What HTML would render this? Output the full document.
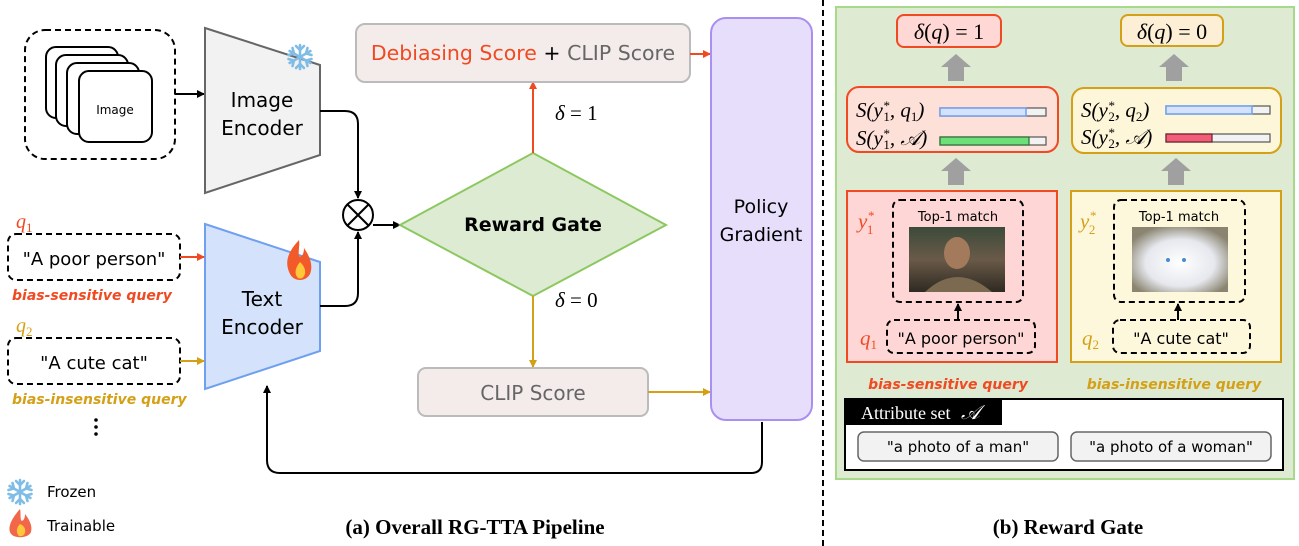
<!DOCTYPE html>
<html><head><meta charset="utf-8"><style>
html,body{margin:0;padding:0;background:#fff;}
svg{display:block;}
text{font-family:"DejaVu Sans","Liberation Sans",sans-serif;}
.m{font-family:"Liberation Serif","DejaVu Serif",serif;font-style:italic;}
.r{font-family:"Liberation Serif","DejaVu Serif",serif;}
</style></head><body>
<svg width="1299" height="546" viewBox="0 0 1299 546" xmlns="http://www.w3.org/2000/svg">
<defs>
<marker id="ak" markerWidth="8" markerHeight="8" refX="7" refY="4" orient="auto" markerUnits="userSpaceOnUse"><path d="M0,0 L8,4 L0,8 z" fill="#000"/></marker>
<marker id="ar" markerWidth="8" markerHeight="8" refX="7" refY="4" orient="auto" markerUnits="userSpaceOnUse"><path d="M0,0 L8,4 L0,8 z" fill="#f04a23"/></marker>
<marker id="ao" markerWidth="8" markerHeight="8" refX="7" refY="4" orient="auto" markerUnits="userSpaceOnUse"><path d="M0,0 L8,4 L0,8 z" fill="#d4a017"/></marker>
<linearGradient id="man" x1="0" y1="0" x2="0" y2="1"><stop offset="0" stop-color="#3c4a3a"/><stop offset="0.5" stop-color="#6a5a48"/><stop offset="1" stop-color="#2e2a22"/></linearGradient>
<radialGradient id="cat" cx="0.5" cy="0.55" r="0.6"><stop offset="0" stop-color="#ffffff"/><stop offset="0.6" stop-color="#e6e8ee"/><stop offset="1" stop-color="#8a8470"/></radialGradient>
<g id="snow" stroke="#7fbde6" stroke-width="2.6" stroke-linecap="round">
<line x1="0" y1="-12" x2="0" y2="12"/><line x1="-10.4" y1="-6" x2="10.4" y2="6"/><line x1="-10.4" y1="6" x2="10.4" y2="-6"/>
<path d="M-4,-11 L0,-7 L4,-11 M-4,11 L0,7 L4,11" fill="none"/>
<path d="M-11.5,-2 L-6,-3.5 L-7.5,-9 M11.5,2 L6,3.5 L7.5,9" fill="none"/>
<path d="M-11.5,2 L-6,3.5 L-7.5,9 M11.5,-2 L6,-3.5 L7.5,-9" fill="none"/>
</g>
</defs>

<!-- image stack -->
<rect x="25" y="30" width="150" height="129" rx="20" fill="none" stroke="#000" stroke-width="2" stroke-dasharray="6,4"/>
<rect x="46" y="47" width="72" height="71" rx="10" fill="#fff" stroke="#000" stroke-width="2"/>
<rect x="56" y="55" width="72" height="71" rx="10" fill="#fff" stroke="#000" stroke-width="2"/>
<rect x="67" y="63" width="72" height="71" rx="10" fill="#fff" stroke="#000" stroke-width="2"/>
<rect x="79" y="71" width="73" height="71" rx="10" fill="#fff" stroke="#000" stroke-width="2"/>
<text x="115" y="114" font-size="12" text-anchor="middle">Image</text>
<line x1="175" y1="94" x2="204" y2="94" stroke="#000" stroke-width="2" marker-end="url(#ak)"/>

<!-- encoders -->
<polygon points="205,28 320,65 320,155 205,193" fill="#f2f2f2" stroke="#666" stroke-width="2"/>
<text x="262" y="107" font-size="20" text-anchor="middle">Image</text>
<text x="262" y="135" font-size="20" text-anchor="middle">Encoder</text>
<use href="#snow" transform="translate(300,57)"/>
<polygon points="205,224 320,262 320,351 205,389" fill="#d4e3fb" stroke="#6fa0f0" stroke-width="2"/>
<text x="262" y="306" font-size="20" text-anchor="middle">Text</text>
<text x="262" y="334" font-size="20" text-anchor="middle">Encoder</text>
<path d="M299,240 C288,252 284,262 290,274 C294,282 306,282 310,274 C314,264 308,254 304,248 C304,256 300,258 299,256 C298,250 300,246 299,240z" fill="#f25a2a"/>
<path d="M300,262 C295,268 294,274 298,278 C302,280 306,276 305,270 C304,266 302,264 300,262z" fill="#ffc83a"/>

<!-- connectors to multiply -->
<path d="M320,111 H345 Q358,111 358,124 V198" fill="none" stroke="#000" stroke-width="2" marker-end="url(#ak)"/>
<path d="M320,306 H345 Q358,306 358,293 V232" fill="none" stroke="#000" stroke-width="2" marker-end="url(#ak)"/>
<circle cx="358" cy="215" r="15" fill="#fff" stroke="#000" stroke-width="2"/>
<line x1="347" y1="204" x2="369" y2="226" stroke="#000" stroke-width="2"/>
<line x1="369" y1="204" x2="347" y2="226" stroke="#000" stroke-width="2"/>
<line x1="373" y1="225" x2="400" y2="225" stroke="#000" stroke-width="2" marker-end="url(#ak)"/>

<!-- reward gate -->
<polygon points="400,225 533,153 666,225 533,296" fill="#deebd3" stroke="#8cc860" stroke-width="2"/>
<text x="533" y="231" font-size="19" font-weight="bold" text-anchor="middle">Reward Gate</text>
<line x1="533" y1="153" x2="533" y2="82" stroke="#f04a23" stroke-width="2" marker-end="url(#ar)"/>
<text x="555" y="120" class="r" font-size="21"><tspan class="m">δ</tspan> = 1</text>
<line x1="533" y1="296" x2="533" y2="367" stroke="#d4a017" stroke-width="2" marker-end="url(#ao)"/>
<text x="555" y="307" class="r" font-size="21"><tspan class="m">δ</tspan> = 0</text>

<rect x="356" y="24" width="334" height="58" rx="9" fill="#f4ecea" stroke="#bbb" stroke-width="2"/>
<text x="523" y="60" font-size="20.5" text-anchor="middle"><tspan fill="#f04a23">Debiasing Score</tspan><tspan fill="#000"> + </tspan><tspan fill="#666">CLIP Score</tspan></text>
<line x1="690" y1="54" x2="710" y2="54" stroke="#f04a23" stroke-width="2" marker-end="url(#ar)"/>

<rect x="418" y="368" width="230" height="48" rx="8" fill="#f4ecea" stroke="#bbb" stroke-width="2"/>
<text x="533" y="400" font-size="20" text-anchor="middle" fill="#666">CLIP Score</text>
<line x1="648" y1="392" x2="710" y2="392" stroke="#d4a017" stroke-width="2" marker-end="url(#ao)"/>

<rect x="711" y="18" width="101" height="402" rx="15" fill="#e7defc" stroke="#a98ff0" stroke-width="2"/>
<text x="761" y="213" font-size="19" text-anchor="middle">Policy</text>
<text x="761" y="241" font-size="19" text-anchor="middle">Gradient</text>

<path d="M762,422 V462 Q762,473 751,473 H280 Q267,473 267,460 V386" fill="none" stroke="#000" stroke-width="2" marker-end="url(#ak)"/>

<!-- queries -->
<text x="16" y="228" class="m" font-size="20" fill="#f04a23">q<tspan font-size="13" font-style="normal" dy="4">1</tspan></text>
<rect x="8" y="234" width="172" height="46" rx="8" fill="none" stroke="#000" stroke-width="2" stroke-dasharray="6,4"/>
<text x="94" y="265" font-size="18" text-anchor="middle">"A poor person"</text>
<line x1="180" y1="257" x2="204" y2="257" stroke="#f04a23" stroke-width="2" marker-end="url(#ar)"/>
<text x="12" y="300" font-size="14" font-weight="bold" font-style="italic" fill="#f04a23">bias-sensitive query</text>
<text x="16" y="332" class="m" font-size="20" fill="#d4a017">q<tspan font-size="13" font-style="normal" dy="4">2</tspan></text>
<rect x="8" y="338" width="172" height="46" rx="8" fill="none" stroke="#000" stroke-width="2" stroke-dasharray="6,4"/>
<text x="94" y="369" font-size="18" text-anchor="middle">"A cute cat"</text>
<line x1="180" y1="361" x2="204" y2="361" stroke="#d4a017" stroke-width="2" marker-end="url(#ao)"/>
<text x="12" y="404" font-size="14" font-weight="bold" font-style="italic" fill="#d4a017">bias-insensitive query</text>
<circle cx="96" cy="420" r="1.8" fill="#000"/><circle cx="96" cy="427" r="1.8" fill="#000"/><circle cx="96" cy="434" r="1.8" fill="#000"/>

<!-- legend -->
<use href="#snow" transform="translate(20,492)"/>
<text x="47" y="497" font-size="15">Frozen</text>
<path d="M20,509 C12,518 8,526 10,532 C12,539 28,539 31,532 C33,525 28,518 25,514 C25,520 22,522 21,520 C20,516 21,512 20,509z" fill="#f2664a"/>
<path d="M20,524 C16,528 16,533 19,536 C23,537 26,534 25,529 C24,526 22,525 20,524z" fill="#ffc83a"/>
<text x="47" y="531" font-size="15">Trainable</text>

<text x="475" y="534" class="r" font-size="21" font-weight="bold" text-anchor="middle">(a) Overall RG-TTA Pipeline</text>

<line x1="823" y1="0" x2="823" y2="546" stroke="#000" stroke-width="2" stroke-dasharray="6,4"/>

<!-- right panel -->
<rect x="836" y="7" width="458" height="472" fill="#dfead3" stroke="#a6d98a" stroke-width="2"/>
<rect x="897" y="15" width="104" height="32" rx="7" fill="#ffd8d6" stroke="#f04a23" stroke-width="2"/>
<text x="949" y="39" class="r" font-size="22" text-anchor="middle"><tspan class="m">δ</tspan>(<tspan class="m">q</tspan>) = 1</text>
<rect x="1121" y="15" width="102" height="31" rx="7" fill="#fdefd5" stroke="#d4a017" stroke-width="2"/>
<text x="1172" y="39" class="r" font-size="22" text-anchor="middle"><tspan class="m">δ</tspan>(<tspan class="m">q</tspan>) = 0</text>

<g fill="#a0a0a0">
<polygon points="956,54 971,67 964,67 964,81 948,81 948,67 941,67"/>
<polygon points="1174,54 1189,67 1182,67 1182,81 1166,81 1166,67 1159,67"/>
<polygon points="956,158 971,171 964,171 964,185 948,185 948,171 941,171"/>
<polygon points="1176,158 1191,171 1184,171 1184,185 1168,185 1168,171 1161,171"/>
</g>

<rect x="847" y="87" width="211" height="65" rx="12" fill="#fde0d8" stroke="#f04a23" stroke-width="2"/>
<text x="856" y="117" class="m" font-size="21">S(y<tspan font-size="13" dy="-7">*</tspan><tspan font-size="13" dx="-6" dy="11" font-style="normal">1</tspan><tspan dy="-4">, q</tspan><tspan font-size="13" dy="4" font-style="normal">1</tspan><tspan dy="-4">)</tspan></text>
<text x="856" y="145" class="m" font-size="21">S(y<tspan font-size="13" dy="-7">*</tspan><tspan font-size="13" dx="-6" dy="11" font-style="normal">1</tspan><tspan dy="-4">, 𝒜)</tspan></text>
<rect x="940" y="108" width="106" height="8" fill="#f2f2f2" stroke="#555" stroke-width="1.2"/>
<rect x="940" y="108" width="86" height="8" fill="#d4e3fb" stroke="#6fa0f0" stroke-width="1.5"/>
<rect x="940" y="137" width="106" height="8" fill="#f2f2f2" stroke="#555" stroke-width="1.2"/>
<rect x="940" y="137" width="89" height="8" fill="#6ee07a" stroke="#2f6a36" stroke-width="1.2"/>

<rect x="1072" y="88" width="209" height="65" rx="12" fill="#fdf6d8" stroke="#d4a017" stroke-width="2"/>
<text x="1081" y="117" class="m" font-size="21">S(y<tspan font-size="13" dy="-7">*</tspan><tspan font-size="13" dx="-6" dy="11" font-style="normal">2</tspan><tspan dy="-4">, q</tspan><tspan font-size="13" dy="4" font-style="normal">2</tspan><tspan dy="-4">)</tspan></text>
<text x="1081" y="144" class="m" font-size="21">S(y<tspan font-size="13" dy="-7">*</tspan><tspan font-size="13" dx="-6" dy="11" font-style="normal">2</tspan><tspan dy="-4">, 𝒜)</tspan></text>
<rect x="1166" y="106" width="104" height="8" fill="#f2f2f2" stroke="#555" stroke-width="1.2"/>
<rect x="1166" y="106" width="86" height="8" fill="#d4e3fb" stroke="#6fa0f0" stroke-width="1.5"/>
<rect x="1166" y="134" width="104" height="8" fill="#f2f2f2" stroke="#555" stroke-width="1.2"/>
<rect x="1166" y="134" width="46" height="8" fill="#f25d78" stroke="#6a2030" stroke-width="1.2"/>

<!-- lower boxes -->
<rect x="847" y="191" width="210" height="171" fill="#ffd6d6" stroke="#f04a23" stroke-width="2"/>
<text x="858" y="228" class="m" font-size="21" fill="#f04a23">y<tspan font-size="13" dy="-8">*</tspan><tspan font-size="13" dx="-7" dy="14" font-style="normal">1</tspan></text>
<rect x="893" y="200" width="130" height="102" rx="7" fill="none" stroke="#000" stroke-width="2" stroke-dasharray="6,4"/>
<text x="958" y="221" font-size="13" text-anchor="middle">Top-1 match</text>
<rect x="909" y="227" width="96" height="65" fill="url(#man)"/>
<ellipse cx="957" cy="253" rx="13" ry="16" fill="#a47a5c"/>
<path d="M925,292 Q957,262 992,292z" fill="#7b6a50"/>
<line x1="958" y1="320" x2="958" y2="304" stroke="#000" stroke-width="2" marker-end="url(#ak)"/>
<text x="860" y="345" class="m" font-size="21" fill="#f04a23">q<tspan font-size="13" font-style="normal" dy="4">1</tspan></text>
<rect x="887" y="320" width="148" height="33" rx="7" fill="none" stroke="#000" stroke-width="2" stroke-dasharray="6,4"/>
<text x="961" y="344" font-size="16" text-anchor="middle">"A poor person"</text>
<text x="948" y="389" font-size="14" font-weight="bold" font-style="italic" fill="#f04a23" text-anchor="middle">bias-sensitive query</text>

<rect x="1071" y="191" width="210" height="171" fill="#fdf8dc" stroke="#d4a017" stroke-width="2"/>
<text x="1080" y="228" class="m" font-size="21" fill="#d4a017">y<tspan font-size="13" dy="-8">*</tspan><tspan font-size="13" dx="-7" dy="14" font-style="normal">2</tspan></text>
<rect x="1114" y="200" width="131" height="102" rx="7" fill="none" stroke="#000" stroke-width="2" stroke-dasharray="6,4"/>
<text x="1179" y="221" font-size="13" text-anchor="middle">Top-1 match</text>
<rect x="1132" y="227" width="96" height="65" fill="url(#cat)"/>
<circle cx="1168" cy="260" r="2" fill="#4a8ad0"/><circle cx="1184" cy="260" r="2" fill="#4a8ad0"/>
<line x1="1178" y1="320" x2="1178" y2="304" stroke="#000" stroke-width="2" marker-end="url(#ak)"/>
<text x="1082" y="345" class="m" font-size="21" fill="#d4a017">q<tspan font-size="13" font-style="normal" dy="4">2</tspan></text>
<rect x="1113" y="320" width="137" height="33" rx="7" fill="none" stroke="#000" stroke-width="2" stroke-dasharray="6,4"/>
<text x="1181" y="344" font-size="16" text-anchor="middle">"A cute cat"</text>
<text x="1174" y="389" font-size="14" font-weight="bold" font-style="italic" fill="#d4a017" text-anchor="middle">bias-insensitive query</text>

<!-- attribute set -->
<rect x="845" y="399" width="438" height="71" fill="#fff" stroke="#000" stroke-width="2"/>
<rect x="845" y="399" width="157" height="26" fill="#000"/>
<text x="861" y="419" class="r" font-size="18" fill="#fff">Attribute set <tspan class="m" font-size="20" dx="6">𝒜</tspan></text>
<rect x="858" y="432" width="200" height="29" rx="6" fill="#f2f2f2" stroke="#666" stroke-width="1.5"/>
<text x="958" y="452" font-size="15" text-anchor="middle">"a photo of a man"</text>
<rect x="1071" y="432" width="200" height="29" rx="6" fill="#f2f2f2" stroke="#666" stroke-width="1.5"/>
<text x="1171" y="452" font-size="15" text-anchor="middle">"a photo of a woman"</text>

<text x="1068" y="534" class="r" font-size="21" font-weight="bold" text-anchor="middle">(b) Reward Gate</text>
</svg>
</body></html>
